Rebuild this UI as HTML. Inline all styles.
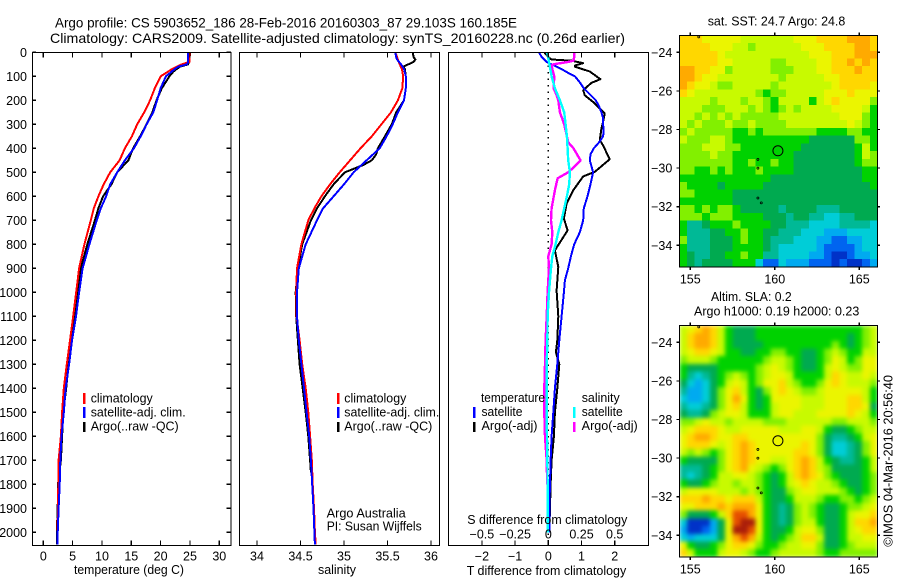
<!DOCTYPE html>
<html lang="en">
<head>
<meta charset="utf-8">
<title>Argo profile</title>
<style>
html,body{margin:0;padding:0;background:#fff;width:900px;height:580px;overflow:hidden}
svg{display:block}
text{font-family:"Liberation Sans",sans-serif;font-size:12.5px;fill:#000}
.title{font-size:14px}
.frame{fill:none;stroke:#000;stroke-width:1.2;shape-rendering:crispEdges}
</style>
</head>
<body>
<svg id="chart" xmlns="http://www.w3.org/2000/svg" width="900" height="580" viewBox="0 0 900 580">
  <defs>
    <clipPath id="clip-sst"><rect x="679.5" y="35.5" width="198" height="231.5"/></clipPath>
    <clipPath id="clip-sla"><rect x="679.5" y="325.5" width="198" height="231.5"/></clipPath>
    <filter id="smooth" filterUnits="userSpaceOnUse" x="660" y="300" width="240" height="280" color-interpolation-filters="sRGB">
      <feGaussianBlur stdDeviation="2.2" edgeMode="duplicate"/>
    </filter>
  </defs>

  <text class="title" x="55" y="27.5" textLength="462" lengthAdjust="spacingAndGlyphs">Argo profile: CS 5903652_186 28-Feb-2016 20160303_87 29.103S 160.185E</text>
  <text class="title" x="50" y="43" textLength="575" lengthAdjust="spacingAndGlyphs">Climatology: CARS2009. Satellite-adjusted climatology: synTS_20160228.nc (0.26d earlier)</text>

  <g id="p1"></g>
  <g id="p2"></g>
  <g id="p3"></g>
  <g id="m1"></g>
  <g id="m2"></g>

  <text x="74" y="574" textLength="110" lengthAdjust="spacingAndGlyphs">temperature (deg C)</text>
  <text x="318" y="574" textLength="38" lengthAdjust="spacingAndGlyphs">salinity</text>
  <text x="466.7" y="575" textLength="159.5" lengthAdjust="spacingAndGlyphs">T difference from climatology</text>
  <text x="467.3" y="524" textLength="160" lengthAdjust="spacingAndGlyphs">S difference from climatology</text>

  <g>
    <rect x="83" y="393" width="2.5" height="11" fill="#f00"/>
    <rect x="83" y="407" width="2.5" height="11" fill="#00f"/>
    <rect x="83" y="422" width="2.5" height="10" fill="#000"/>
    <text x="90.7" y="402.7" textLength="62" lengthAdjust="spacingAndGlyphs">climatology</text>
    <text x="90.7" y="416.7" textLength="95" lengthAdjust="spacingAndGlyphs">satellite-adj. clim.</text>
    <text x="90.7" y="430.7" textLength="88" lengthAdjust="spacingAndGlyphs">Argo(..raw -QC)</text>
  </g>
  <g>
    <rect x="337" y="393" width="2.5" height="11" fill="#f00"/>
    <rect x="337" y="407" width="2.5" height="11" fill="#00f"/>
    <rect x="337" y="422" width="2.5" height="10" fill="#000"/>
    <text x="344.3" y="402.7" textLength="62" lengthAdjust="spacingAndGlyphs">climatology</text>
    <text x="344.3" y="416.7" textLength="95" lengthAdjust="spacingAndGlyphs">satellite-adj. clim.</text>
    <text x="344.3" y="430.7" textLength="88" lengthAdjust="spacingAndGlyphs">Argo(..raw -QC)</text>
  </g>
  <text x="326.7" y="517.3" textLength="79" lengthAdjust="spacingAndGlyphs">Argo Australia</text>
  <text x="326.7" y="530.7" textLength="95" lengthAdjust="spacingAndGlyphs">PI: Susan Wijffels</text>

  <g>
    <text x="481" y="402" textLength="64" lengthAdjust="spacingAndGlyphs">temperature</text>
    <text x="581.7" y="402" textLength="38" lengthAdjust="spacingAndGlyphs">salinity</text>
    <rect x="473" y="407" width="2.5" height="11" fill="#00f"/>
    <rect x="473" y="422" width="2.5" height="10" fill="#000"/>
    <rect x="573" y="407" width="2.5" height="11" fill="#0ff"/>
    <rect x="573" y="422" width="2.5" height="10" fill="#f0f"/>
    <text x="481.5" y="416" textLength="41" lengthAdjust="spacingAndGlyphs">satellite</text>
    <text x="481.5" y="430" textLength="56" lengthAdjust="spacingAndGlyphs">Argo(-adj)</text>
    <text x="581.7" y="416" textLength="41" lengthAdjust="spacingAndGlyphs">satellite</text>
    <text x="581.7" y="430" textLength="56" lengthAdjust="spacingAndGlyphs">Argo(-adj)</text>
  </g>

  <text x="707.7" y="25.7" textLength="137.6" lengthAdjust="spacingAndGlyphs">sat. SST: 24.7 Argo: 24.8</text>
  <text x="711" y="301" textLength="80.7" lengthAdjust="spacingAndGlyphs">Altim. SLA: 0.2</text>
  <text x="694" y="315.7" textLength="165.3" lengthAdjust="spacingAndGlyphs">Argo h1000: 0.19 h2000: 0.23</text>
  <text transform="translate(892.7 546.7) rotate(-90)" textLength="171.7" lengthAdjust="spacingAndGlyphs">©IMOS 04-Mar-2016 20:56:40</text>
</svg>

<script>
// ---- profile data ----
const tempDepths = [0,40,50,60,70,80,100,150,200,250,300,350,400,450,500,550,600,650,700,800,900,1000,1100,1200,1300,1400,1500,1600,1700,1800,1900,2000,2050];
const tempClim = [25,24.9,23.6,22.8,21.9,21.3,20,19,18.2,17.2,16,15.1,13.9,13,11.4,10.3,9.4,8.6,8.1,7,6.1,5.6,5.1,4.55,4,3.5,3.2,3,2.6,2.55,2.5,2.4,2.4];
const tempSat = [24.7,24.7,24.5,23,22.4,21.9,20.9,20,19.4,18.75,17.6,16.6,15.45,13.9,12.6,11.4,10.7,9.8,9.1,7.85,6.7,6.1,5.57,4.9,4.4,3.8,3.5,3.1,2.9,2.8,2.6,2.45,2.45];
const tempArgo = [24.75,24.75,24.7,23.3,22.7,22.2,21.5,20.2,19.3,18.6,17.6,16.5,15.3,14.5,12.6,11.6,10.2,9.4,8.8,7.5,6.4,5.8,5.4,4.7,4.3,3.9,3.4,3.2,3,2.5,2.45,2.3,2.3];

const salDepths = [0,20,30,50,70,100,150,200,250,300,350,400,450,500,550,600,650,700,800,900,1000,1100,1200,1300,1400,1500,1600,1700,1800,1900,2000,2050];
const salClim = [35.59,35.61,35.62,35.64,35.665,35.68,35.67,35.62,35.54,35.43,35.32,35.19,35.07,34.95,34.84,34.74,34.66,34.59,34.51,34.46,34.45,34.455,34.49,34.52,34.56,34.59,34.61,34.63,34.64,34.655,34.665,34.675];
const salSat = [35.59,35.6,35.61,35.655,35.69,35.71,35.71,35.69,35.62,35.56,35.49,35.41,35.26,35.11,35,34.88,34.76,34.69,34.56,34.48,34.46,34.46,34.48,34.51,34.54,34.57,34.6,34.62,34.635,34.65,34.66,34.665];
const salArgoDepths = [0,20,30,40,50,60,70,100,150,200,250,300,350,400,425,450,470,500,550,600,650,700,800,900,1000,1100,1200,1300,1400,1500,1600,1700,1750];
const salArgo = [35.79,35.8,35.82,35.8,35.74,35.68,35.7,35.71,35.71,35.69,35.6,35.55,35.47,35.39,35.37,35.32,35.22,35.01,34.88,34.78,34.69,34.62,34.52,34.47,34.445,34.45,34.47,34.49,34.525,34.56,34.59,34.61,34.62];

const dtSatDepths = [0,20,40,60,70,90,100,125,150,175,200,225,250,275,300,325,350,375,400,425,450,475,500,550,600,650,700,750,800,850,900,950,1000,1100,1200,1300,1400,1500,1600,1700,1800,1900,2000];
const dtSat = [-0.28,-0.2,-0.05,0.25,0.4,0.65,0.8,0.95,1.07,1.25,1.43,1.53,1.6,1.65,1.65,1.67,1.65,1.53,1.37,1.27,1.25,1.3,1.35,1.27,1.18,1.07,1.05,0.95,0.78,0.68,0.6,0.5,0.47,0.4,0.33,0.27,0.2,0.15,0.1,0.07,0.05,0.03,0.03];
const dtArgoDepths = [0,20,30,35,45,55,60,80,112,127,158,179,207,255,290,318,366,388,446,498,517,575,630,693,742,825,894,992,1100,1200,1250,1300,1400,1500,1600,1700,1800,1900,2000];
const dtArgo = [-0.12,0,0.1,0.7,1.05,0.8,0.8,1.25,1.57,1.3,1.05,1.1,1.35,1.7,1.65,1.6,1.55,1.65,1.85,1.4,1.05,0.75,0.55,0.47,0.58,0.2,0.3,0.25,0.3,0.27,0.23,0.33,0.27,0.2,0.17,0.1,0.07,0.05,0.03];
const dsSatDepths = [0,50,100,150,200,250,300,350,400,450,500,550,600,650,700,750,800,850,900,1000,1100,1200,1300,1400,1500,1600,1700,1800,1900,2000];
const dsSat = [-0.008,0.008,0.025,0.05,0.0875,0.12,0.13,0.14,0.145,0.15,0.1625,0.1575,0.14,0.12,0.1,0.075,0.055,0.03,0.02,0.005,-0.005,-0.007,-0.012,-0.012,-0.012,-0.01,-0.007,-0.005,-0.005,-0.005];
const dsArgoDepths = [0,20,35,40,50,55,70,100,150,175,200,250,300,350,375,400,450,475,500,525,575,650,700,750,800,850,900,1000,1100,1200,1300,1400,1500,1600,1700,1800];
const dsArgo = [0.195,0.195,0.19,0.15,0.04,0.025,0.03,0.045,0.04,0.06,0.075,0.0875,0.12,0.14,0.15,0.19,0.2425,0.2,0.15,0.07,0.05,0.025,0.02,0.03,0.025,0,0.005,-0.005,-0.012,-0.02,-0.025,-0.03,-0.03,-0.025,-0.012,-0.008];

// ---- tick labels ----
const depthTicks = [0,100,200,300,400,500,600,700,800,900,1000,1100,1200,1300,1400,1500,1600,1700,1800,1900,2000];
const tempTicks = [0,5,10,15,20,25,30];
const salTicks = [34,34.5,35,35.5,36];
const dtTicks = [-2,-1,0,1,2];
const dsTicks = [-0.5,-0.25,0,0.25,0.5];
const lonTicks = [155,160,165];
const latTicks = [-24,-26,-28,-30,-32,-34];
const platformLons = [155.5,159,159,159,159.2];
const platformLats = [-23.2,-29.55,-30,-31.55,-31.8];
const argoLon = 160.185;
const argoLat = -29.103;

// ---- map colour levels (0 = coldest/lowest, 13 = warmest/highest) ----
const colourScale = ['#0032c8','#0064f0','#00aaf0','#00cdd7','#00b996','#00aa50','#00d200','#82f000','#c8fa00','#ebf500','#ffd700','#ffaa00','#e65000','#aa1e0a'];
const sstLevels = [
[10,10,10,9,9,9,9,9,8,8,8,8,8,8,8,9,9,9,10,10,10,10,11,11,11,10],
[10,10,10,10,9,9,9,8,8,7,8,8,8,8,8,8,9,9,9,10,10,10,10,11,11,10],
[10,10,10,10,10,9,8,8,8,8,8,8,8,8,8,8,8,9,9,9,10,10,10,11,11,11],
[10,10,10,10,10,9,9,8,8,8,8,8,7,7,8,8,8,8,9,9,10,10,11,10,11,10],
[11,11,10,10,9,9,7,8,8,8,8,8,7,7,7,8,8,8,9,9,10,10,10,11,10,10],
[11,11,10,9,9,8,8,8,8,8,8,8,8,7,8,8,8,8,8,9,9,10,10,10,10,10],
[11,10,9,9,8,7,7,8,8,8,8,8,7,8,8,8,8,8,8,8,9,10,10,10,10,9],
[10,9,8,8,8,8,8,8,8,8,7,6,7,7,8,8,8,8,8,9,9,9,10,9,9,9],
[8,8,8,8,7,8,8,8,7,8,8,7,6,8,8,8,8,6,8,9,10,9,9,9,9,7],
[8,8,8,7,7,7,8,8,8,7,8,7,6,7,8,7,8,8,8,8,9,9,9,9,8,6],
[8,8,7,8,7,8,7,8,7,7,7,7,7,8,8,8,8,8,8,8,8,9,9,9,7,6],
[8,7,8,7,7,7,8,7,7,8,7,7,7,7,8,8,8,8,8,8,8,8,9,8,7,6],
[7,8,7,7,7,7,7,6,6,7,6,7,7,7,7,7,7,7,6,6,6,6,7,7,6,6],
[8,7,7,7,8,8,7,6,6,6,6,6,6,6,6,6,6,5,5,5,5,5,5,7,7,6],
[7,7,7,8,8,8,7,7,6,6,6,6,6,6,6,6,5,5,5,5,5,5,5,6,8,6],
[7,7,7,7,8,7,7,6,6,6,6,6,6,6,6,5,5,5,5,5,5,5,5,6,8,7],
[7,7,7,7,7,7,7,6,6,7,6,6,7,6,6,5,5,5,5,5,5,5,5,6,7,7],
[7,7,6,6,7,6,7,6,6,6,7,6,6,6,6,5,5,5,5,5,5,5,5,5,6,6],
[6,6,6,6,6,6,6,6,6,6,6,6,5,5,5,5,5,5,5,5,5,5,5,5,6,6],
[7,6,6,6,6,5,6,6,6,6,6,5,5,5,5,5,5,5,5,5,5,5,5,5,5,6],
[7,7,6,6,6,6,6,5,5,5,5,5,5,5,5,5,5,5,5,5,5,5,5,5,5,5],
[6,6,6,6,6,6,6,5,5,5,5,5,5,5,5,5,5,5,5,5,5,5,5,5,5,5],
[7,7,6,7,6,7,7,6,5,5,5,5,5,4,5,5,5,5,4,4,4,5,5,5,5,5],
[7,7,7,6,7,7,7,6,6,6,6,5,5,5,4,5,5,4,4,3,3,4,4,5,5,5],
[6,4,4,5,6,6,6,7,6,6,6,6,5,5,4,4,4,3,3,3,3,4,4,4,4,3],
[6,4,4,4,5,5,6,6,7,6,6,5,5,4,4,4,3,3,3,2,2,2,3,3,3,3],
[7,4,4,4,5,5,5,6,7,6,6,5,4,4,4,3,3,3,2,2,1,1,2,2,3,3],
[6,4,4,4,5,5,5,6,6,6,6,5,4,3,3,3,3,3,2,1,1,1,1,2,3,3],
[6,5,4,4,5,5,6,6,7,6,6,4,4,3,3,3,3,2,2,1,0,0,1,2,2,3],
[6,5,4,5,5,5,5,6,6,6,3,1,1,3,2,2,2,1,1,1,0,1,0,0,1,2]
];
const slaLevels = [
[8,9,10,11,10,8,6,5,5,5,6,6,6,6,6,6,6,6,6,6,6,6,6,6,7,8],
[8,10,11,11,10,8,6,5,5,5,6,6,6,6,6,6,6,6,6,6,6,6,5,6,7,8],
[8,10,11,11,10,8,6,5,5,5,5,6,6,6,6,6,6,6,6,6,7,6,5,6,7,8],
[8,9,10,10,9,8,6,6,5,5,6,6,7,7,6,6,5,5,6,7,8,7,6,6,8,8],
[7,8,8,8,7,6,6,6,6,6,6,7,8,8,7,6,5,5,6,7,9,8,6,7,9,9],
[6,5,5,5,5,6,6,6,6,6,7,8,9,8,7,6,5,5,6,8,9,8,7,7,9,9],
[6,4,3,4,5,6,7,8,7,6,7,8,9,9,8,6,6,6,6,8,10,9,8,8,9,8],
[5,3,2,3,5,6,8,9,8,6,7,9,9,10,8,7,6,6,7,9,10,9,8,8,8,7],
[4,2,2,3,5,7,9,10,8,6,5,7,9,10,9,8,7,7,8,9,9,9,9,9,8,6],
[3,2,2,3,5,7,9,11,9,6,5,6,9,9,9,9,8,8,8,9,9,9,10,10,8,6],
[4,3,3,4,5,7,9,10,8,6,5,6,8,9,9,9,8,8,8,9,9,9,10,10,9,5],
[5,4,4,5,7,8,9,9,8,6,6,6,8,9,9,8,8,8,9,9,9,9,10,9,8,6],
[7,7,8,9,8,8,7,8,8,8,8,7,7,7,8,8,8,8,8,8,7,7,8,8,8,7],
[8,9,10,10,10,9,8,8,9,9,9,9,9,8,8,8,9,9,8,6,5,5,6,7,8,8],
[9,10,11,11,10,9,9,10,10,9,9,9,9,9,9,9,9,9,7,5,4,4,5,6,8,9],
[9,10,10,10,9,8,9,10,11,10,9,9,9,9,9,9,10,9,7,5,3,3,4,5,7,9],
[8,7,8,7,6,7,9,10,11,10,9,9,9,9,9,10,10,9,7,5,3,3,4,5,7,9],
[6,5,5,5,5,7,9,10,11,10,9,9,8,8,9,10,11,10,8,6,5,4,4,5,6,8],
[4,4,4,5,6,7,9,10,11,9,8,7,6,7,9,10,11,10,8,7,5,5,5,5,6,8],
[4,3,4,5,6,8,8,9,9,8,7,6,5,6,8,10,11,10,9,7,6,5,5,5,6,7],
[6,5,5,6,7,8,8,7,8,8,7,6,5,6,8,9,10,9,8,8,7,6,5,5,6,7],
[8,9,9,9,9,8,8,8,7,8,7,6,5,5,7,8,9,9,8,8,8,7,6,5,6,7],
[10,10,10,11,10,10,9,10,10,10,8,6,5,5,6,8,8,8,7,6,6,7,7,6,7,8],
[9,9,10,10,10,11,10,11,11,11,9,6,5,4,5,7,8,7,6,5,5,6,7,7,8,9],
[7,5,5,5,6,8,10,12,12,11,9,6,5,4,5,7,8,7,6,5,5,6,8,9,9,10],
[3,0,0,0,2,5,9,12,13,13,9,6,5,4,5,7,8,8,6,5,5,6,8,10,10,11],
[2,0,0,1,2,5,9,13,13,12,9,6,5,5,6,8,9,9,7,5,5,6,8,9,10,10],
[3,2,3,3,3,5,9,11,12,11,8,6,5,6,7,8,10,10,8,5,5,6,8,8,9,9],
[9,6,5,5,6,7,9,10,10,9,7,6,6,7,8,8,9,9,7,5,5,6,7,8,8,8],
[10,8,6,6,6,8,9,9,8,7,6,6,7,8,8,8,8,8,7,6,6,7,7,7,7,7]
];

const NS = 'http://www.w3.org/2000/svg';
function mk(parent, tag, attrs, txt) {
  const el = document.createElementNS(NS, tag);
  for (const k in attrs) el.setAttribute(k, attrs[k]);
  if (txt !== undefined) el.textContent = txt;
  parent.appendChild(el);
  return el;
}
function fmt(v) { return String(v).replace('-', '\u2212'); }

// ---- axis functions ----
const yDepth = d => 52.3 + 0.24 * d;
const xTemp = t => 43.3 + 5.867 * t;
const xSal = s => 257 + 87 * (s - 34);
const xDT = t => 548.3 + 33.2 * t;
const xDS = s => 548.3 + 132.8 * s;
const xLon = lon => 690.3 + 16.9 * (lon - 155);
const ySst = lat => 52.3 + 19.3 * (-24 - lat);
const ySla = lat => 342.3 + 19.3 * (-24 - lat);
const LEFT_LON = 154.35, RIGHT_LON = 166.07, TOP_LAT = -23.12, BOTTOM_LAT = -35.12;

function drawFrame(g, l, r) {
  const f = mk(g, 'rect', {class: 'frame', x: l, y: 52.5, width: r - l, height: 493});
  
  
}
function tick(g, x1, y1, x2, y2) {
  const t = mk(g, 'line', {x1: x1, y1: y1, x2: x2, y2: y2, stroke: '#000', 'stroke-width': 1.2, 'shape-rendering': 'crispEdges'});
  
  
}
function tickLabel(g, x, y, anchor, value) {
  const t = mk(g, 'text', {x: x, y: y, 'text-anchor': anchor}, fmt(value));
  
  
}
function xTicks(g, values, fx, withLabels) {
  values.forEach(v => {
    tick(g, fx(v), 52.5, fx(v), 57.5);
    tick(g, fx(v), 540.5, fx(v), 545.5);
    if (withLabels) tickLabel(g, fx(v), 560.5, 'middle', v);
  });
}
function seriesLine(g, depths, values, fx, colour, width, name) {
  const pts = depths.map((d, i) => fx(values[i]).toFixed(1) + ',' + yDepth(d).toFixed(1)).join(' ');
  const p = mk(g, 'polyline', {points: pts, fill: 'none', stroke: colour, 'stroke-width': width, 'shape-rendering': 'crispEdges', 'stroke-linejoin': 'round'});
  
  
}

// temperature panel
const p1 = document.getElementById('p1');
seriesLine(p1, tempDepths, tempArgo, xTemp, '#000', 2, 'line-temperature-argo');
seriesLine(p1, tempDepths, tempClim, xTemp, '#f00', 2, 'line-temperature-climatology');
seriesLine(p1, tempDepths, tempSat, xTemp, '#00f', 2, 'line-temperature-satellite');
drawFrame(p1, 32.5, 231);
depthTicks.forEach(d => {
  tick(p1, 32.5, yDepth(d), 36, yDepth(d));
  tick(p1, 226.5, yDepth(d), 231, yDepth(d));
  tickLabel(p1, 27, yDepth(d) + 4.5, 'end', d);
});
xTicks(p1, tempTicks, xTemp, true);

// salinity panel
const p2 = document.getElementById('p2');
seriesLine(p2, salArgoDepths, salArgo, xSal, '#000', 2, 'line-salinity-argo');
seriesLine(p2, salDepths, salClim, xSal, '#f00', 2, 'line-salinity-climatology');
seriesLine(p2, salDepths, salSat, xSal, '#00f', 2, 'line-salinity-satellite');
drawFrame(p2, 239.5, 439.5);
xTicks(p2, salTicks, xSal, true);

// difference panel
const p3 = document.getElementById('p3');
const zeroLine = mk(p3, 'line', {x1: xDT(0), y1: 52.5, x2: xDT(0), y2: 545, stroke: '#000', 'stroke-width': 1.5, 'stroke-dasharray': '1.5 5', 'shape-rendering': 'crispEdges'});


seriesLine(p3, dtArgoDepths, dtArgo, xDT, '#000', 2, 'line-t-difference-argo');
seriesLine(p3, dtSatDepths, dtSat, xDT, '#00f', 2, 'line-t-difference-satellite');
seriesLine(p3, dsArgoDepths, dsArgo, xDS, '#f0f', 2.4, 'line-s-difference-argo');
seriesLine(p3, dsSatDepths, dsSat, xDS, '#0ff', 2.4, 'line-s-difference-satellite');
drawFrame(p3, 448.5, 648.5);
xTicks(p3, dtTicks, xDT, true);
dsTicks.forEach(v => tickLabel(p3, xDS(v), 538.7, 'middle', v));

// maps
function drawMap(g, levels, yLat, clipId, top, bottom, smooth, labelY, cellName) {
  const clip = mk(g, 'g', {'clip-path': 'url(#' + clipId + ')'});
  
  
  const cells = mk(clip, 'g', smooth ? {filter: 'url(#smooth)'} : {});
  
  
  const nRows = levels.length, nCols = levels[0].length;
  const dLon = (RIGHT_LON - LEFT_LON) / nCols, dLat = (TOP_LAT - BOTTOM_LAT) / nRows;
  levels.forEach((row, r) => row.forEach((level, c) => {
    const x0 = xLon(LEFT_LON + c * dLon), x1 = xLon(LEFT_LON + (c + 1) * dLon);
    const y0 = yLat(TOP_LAT - r * dLat), y1 = yLat(TOP_LAT - (r + 1) * dLat);
    const cell = mk(cells, 'rect', {x: x0.toFixed(2), y: y0.toFixed(2), width: (x1 - x0 + 0.5).toFixed(2), height: (y1 - y0 + 0.5).toFixed(2), fill: colourScale[level], 'shape-rendering': 'crispEdges'});
    
    
  }));
  platformLons.forEach((lon, i) => {
    const d = mk(g, 'circle', {cx: xLon(lon), cy: yLat(platformLats[i]), r: 1, fill: 'none', stroke: '#000', 'stroke-width': 0.8});
    
    
  });
  const ring = mk(g, 'circle', {cx: xLon(argoLon), cy: yLat(argoLat), r: 5, fill: 'none', stroke: '#000', 'stroke-width': 1});
  
  
  const frame = mk(g, 'rect', {class: 'frame', x: 679.5, y: top, width: 198, height: bottom - top});
  
  
  lonTicks.forEach(lon => {
    tick(g, xLon(lon), top - 3, xLon(lon), top);
    tick(g, xLon(lon), bottom, xLon(lon), bottom + 3);
    tickLabel(g, xLon(lon), labelY, 'middle', lon);
  });
  latTicks.forEach(lat => {
    tick(g, 676.5, yLat(lat), 679.5, yLat(lat));
    tick(g, 877.5, yLat(lat), 880, yLat(lat));
    tickLabel(g, 672.3, yLat(lat) + 4.5, 'end', lat);
  });
}
drawMap(document.getElementById('m1'), sstLevels, ySst, 'clip-sst', 35.5, 267, false, 283.3, 'sst-cell');
drawMap(document.getElementById('m2'), slaLevels, ySla, 'clip-sla', 325.5, 557, true, 573.3, 'sla-cell');
</script>
</body>
</html>
